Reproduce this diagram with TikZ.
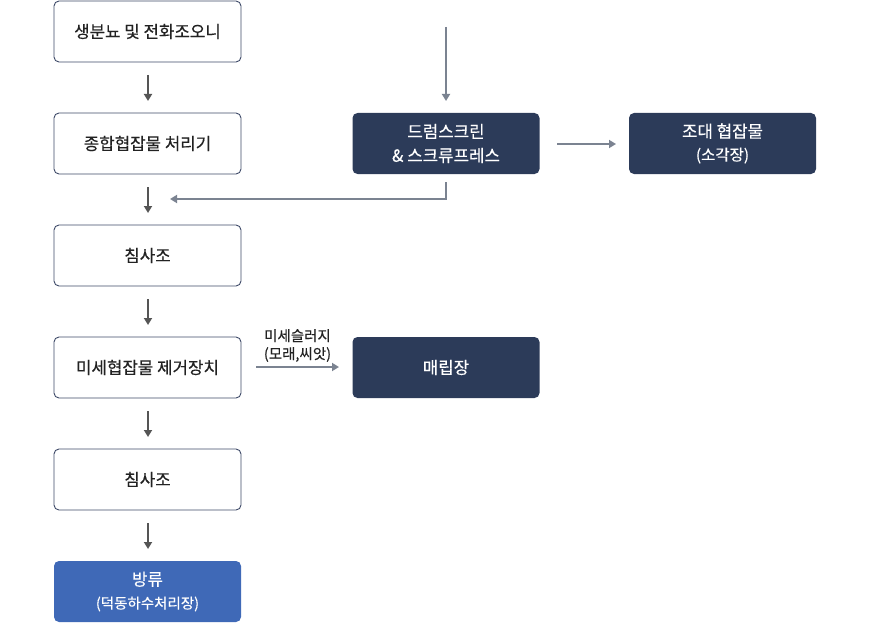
\documentclass[tikz,border=0pt]{standalone}
\usepackage{fontspec}
\setmainfont{Noto Sans CJK KR}[BoldFont={Noto Sans CJK KR},BoldFeatures={FakeBold=0.35}]
\usetikzlibrary{arrows.meta}
\definecolor{navy}{HTML}{2C3B59}
\definecolor{bluebox}{HTML}{3F69B7}
\definecolor{edge}{HTML}{3E4A68}
\definecolor{darkarrow}{HTML}{555555}
\definecolor{lightarrow}{HTML}{7B8391}
\definecolor{txt}{HTML}{222222}
\tikzset{
  box/.style={rounded corners=5pt, minimum width=187pt, minimum height=61pt, inner sep=0pt, align=center, font=\bfseries\fontsize{16.8}{24}\selectfont},
  whitebox/.style={box, draw=edge, line width=0.9pt, fill=white, text=txt},
  darkbox/.style={box, fill=navy, text=white},
  bluebx/.style={box, fill=bluebox, text=white},
  downarrow/.style={draw=darkarrow, line width=2pt, -{Triangle[length=7pt,width=8pt]}},
  grayarrow/.style={draw=lightarrow, line width=2.2pt, -{Triangle[length=7pt,width=8pt]}},
  small/.style={font=\bfseries\fontsize{14.5}{18}\selectfont}
}
\begin{document}
\begin{tikzpicture}[x=1pt,y=-1pt]
\useasboundingbox (0,0) rectangle (872,623);
\node[whitebox] (b1) at (147.5,31.5) {생분뇨 및 전화조오니};
\node[whitebox] (b2) at (147.5,143.5) {종합협잡물 처리기};
\node[whitebox] (b3) at (147.5,255.5) {침사조};
\node[whitebox] (b4) at (147.5,367.5) {미세협잡물 제거장치};
\node[whitebox] (b5) at (147.5,479.5) {침사조};
\node[bluebx] (b6) at (147.5,591.5) {방류\\[-1pt]{\fontsize{14.5}{18}\selectfont (덕동하수처리장)}};
\node[darkbox] (d1) at (446,143.5) {드럼스크린\\\& 스크류프레스};
\node[darkbox] (d2) at (722.5,143.5) {조대 협잡물\\[-1pt]{\fontsize{15.5}{18}\selectfont (소각장)}};
\node[darkbox] (d3) at (446,367.5) {매립장};
% short downward arrows
\coordinate (a1s) at (148,75);  \coordinate (a1e) at (148,101);
\coordinate (a2s) at (148,187); \coordinate (a2e) at (148,213);
\coordinate (a3s) at (148,299); \coordinate (a3e) at (148,325);
\coordinate (a4s) at (148,411); \coordinate (a4e) at (148,437);
\coordinate (a5s) at (148,523); \coordinate (a5e) at (148,549);
\draw[downarrow] (a1s) -- (a1e);
\draw[downarrow] (a2s) -- (a2e);
\draw[downarrow] (a3s) -- (a3e);
\draw[downarrow] (a4s) -- (a4e);
\draw[downarrow] (a5s) -- (a5e);
% top incoming arrow
\coordinate (topin) at (446,27);
\draw[grayarrow] (topin) -- (446,101);
% d1 -> d2
\coordinate (r1s) at (557,144); \coordinate (r1e) at (616,144);
\draw[grayarrow] (r1s) -- (r1e);
% return L
\coordinate (ls) at (446,182); \coordinate (le) at (170,199);
\draw[grayarrow] (ls) -- (446,199) -- (le);
% b4 -> d3
\coordinate (m1s) at (256,367); \coordinate (m1e) at (339,367);
\draw[grayarrow] (m1s) -- node[above=3pt, small, align=center, text=txt, inner sep=1pt] {미세슬러지\\(모래,씨앗)} (m1e);
\end{tikzpicture}
\end{document}
